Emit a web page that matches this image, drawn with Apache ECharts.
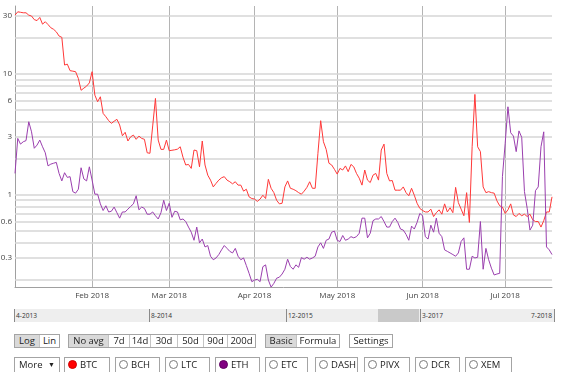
<!DOCTYPE html>
<html>
<head>
<meta charset="utf-8">
<script src="https://cdn.jsdelivr.net/npm/echarts/dist/echarts.min.js"></script>
<style>
  html, body { margin: 0; padding: 0; background: #fff; }
  #wrap { position: relative; width: 570px; height: 372px; overflow: hidden; font-family: 'Open Sans', sans-serif; color: #222; }
  #chart { position: absolute; left: 0; top: 0; width: 570px; height: 372px; }
  #nav { position: absolute; left: 14px; top: 309px; width: 541px; height: 13px; background: #eeeeee; }
  #nav .blk { position: absolute; top: 0; height: 13px; background: #c9c9c9; }
  #nav .tk { position: absolute; top: 0; width: 1px; height: 13px; background: #8a8a8a; }
  #nav .lb { position: absolute; top: 0; line-height: 13px; font-size: 6.6px; color: #333; white-space: nowrap; }
  .grp { position: absolute; top: 334px; height: 14px; display: flex; border: 1px solid #a4a4a4; box-sizing: border-box; background: #fff; font-size: 9.5px; }
  .grp span { display: block; box-sizing: border-box; text-align: center; line-height: 12px; border-left: 1px solid #c4c4c4; white-space: nowrap; }
  .grp span:first-child { border-left: none; }
  .grp span.sel { background: #d9d9d9; }
  .box { position: absolute; top: 357px; height: 16px; border: 1px solid #a4a4a4; box-sizing: border-box; background: #fff; font-size: 9.5px; line-height: 14px; white-space: nowrap; }
  .box .rd { position: absolute; left: 3px; top: 2px; width: 9px; height: 9px; border-radius: 50%; border: 1px solid #7a7a7a; box-sizing: border-box; background: #fff; }
  .box .tx { position: absolute; left: 15px; top: 0; }
</style>
</head>
<body>
<div id="wrap">
  <div id="chart"></div>

  <div id="nav">
    <div class="blk" style="left:364px;width:41px"></div>
    <div class="tk" style="left:0px"></div>
    <div class="lb" style="left:2px">4-2013</div>
    <div class="tk" style="left:135px"></div>
    <div class="lb" style="left:137px">8-2014</div>
    <div class="tk" style="left:272px"></div>
    <div class="lb" style="left:274px">12-2015</div>
    <div class="tk" style="left:406px"></div>
    <div class="lb" style="left:408px">3-2017</div>
    <div class="tk" style="left:540px"></div>
    <div class="lb" style="right:3px">7-2018</div>
  </div>

  <div class="grp" style="left:14px"><span class="sel" style="width:24px">Log</span><span style="width:20px">Lin</span></div>
  <div class="grp" style="left:68px"><span class="sel" style="width:39px">No avg</span><span style="width:21px">7d</span><span style="width:21px">14d</span><span style="width:27px">30d</span><span style="width:26px">50d</span><span style="width:24px">90d</span><span style="width:28px">200d</span></div>
  <div class="grp" style="left:265px"><span class="sel" style="width:30px">Basic</span><span style="width:43px">Formula</span></div>
  <div class="grp" style="left:349px"><span style="width:42px">Settings</span></div>

  <div class="box" style="left:14px;width:46px"><span style="position:absolute;left:4px">More</span><span style="position:absolute;right:4px;font-size:7px">&#9660;</span></div>
  <div class="box" style="left:64px;width:46px"><span class="rd" style="background:#ff0000;border-color:#d00000"></span><span class="tx">BTC</span></div>
  <div class="box" style="left:115px;width:45px"><span class="rd"></span><span class="tx">BCH</span></div>
  <div class="box" style="left:165px;width:45px"><span class="rd"></span><span class="tx">LTC</span></div>
  <div class="box" style="left:215px;width:45px"><span class="rd" style="background:#800080;border-color:#600060"></span><span class="tx">ETH</span></div>
  <div class="box" style="left:265px;width:43px"><span class="rd"></span><span class="tx">ETC</span></div>
  <div class="box" style="left:315px;width:43px"><span class="rd"></span><span class="tx">DASH</span></div>
  <div class="box" style="left:364px;width:46px"><span class="rd"></span><span class="tx">PIVX</span></div>
  <div class="box" style="left:415px;width:45px"><span class="rd"></span><span class="tx">DCR</span></div>
  <div class="box" style="left:465px;width:47px"><span class="rd"></span><span class="tx">XEM</span></div>
</div>

<script>
// ---- data (daily, starting 2018-01-04) ----
const startDate = '2018-01-04';

const btc = [
  30.5,32.5,32.2,31.9,31.9,30.5,30.0,28.0,27.5,29.2,
  25.7,26.9,25.5,24.0,23.3,22.2,20.5,20.0,11.8,12.0,
  10.6,10.5,10.4,9.15,7.3,7.6,7.9,8.4,10.4,6.65,
  5.87,6.45,4.70,4.41,4.1,3.89,4.05,4.20,3.77,3.07,
  3.28,2.78,3.01,3.11,2.87,3.05,2.92,2.87,2.22,2.20,
  3.7,6.25,2.83,2.37,2.37,2.83,2.31,2.33,2.35,2.38,
  2.49,2.04,1.76,1.78,1.65,2.34,2.31,1.70,2.78,1.76,
  1.45,1.32,1.16,1.24,1.32,1.38,1.41,1.32,1.28,1.23,
  1.28,1.20,1.20,1.07,1.11,0.96,0.93,0.92,0.88,0.92,
  0.99,0.93,1.34,1.13,1.04,0.90,0.84,0.85,1.16,1.30,
  1.13,1.11,1.08,1.04,1.01,1.07,1.15,1.28,1.13,1.13,
  2.20,4.09,2.74,2.37,1.82,1.76,1.62,1.48,1.65,1.60,
  1.73,1.55,1.78,1.70,1.50,1.37,1.20,1.60,1.32,1.26,
  1.45,1.50,1.32,2.34,2.62,1.50,1.30,1.31,1.09,1.09,
  1.09,1.16,1.04,0.98,1.13,0.99,0.85,0.77,0.74,0.72,
  0.72,0.76,0.66,0.71,0.75,0.69,0.84,0.72,0.78,0.71,
  1.15,0.86,0.76,0.67,1.04,0.59,2.49,6.75,2.49,2.27,
  1.16,1.04,1.06,1.04,1.03,0.89,0.81,0.79,0.70,0.75,
  0.84,0.68,0.66,0.70,0.67,0.69,0.66,0.69,0.62,0.60,
  0.60,0.54,0.61,0.72,0.72,0.96
];

const eth = [
  1.50,2.92,2.62,2.74,2.80,4.01,3.31,2.42,2.57,2.83,
  2.49,2.22,1.73,1.79,1.82,1.85,1.50,1.30,1.52,1.39,
  1.41,1.06,1.03,1.11,1.67,1.35,1.30,1.70,1.32,1.01,
  1.01,0.84,0.74,0.81,0.72,0.73,0.79,0.71,0.64,0.72,
  0.72,0.76,0.80,0.84,0.98,0.75,0.79,0.77,0.69,0.69,
  0.72,0.67,0.63,0.71,0.90,0.74,0.85,0.65,0.73,0.72,
  0.62,0.63,0.60,0.54,0.49,0.42,0.54,0.40,0.43,0.37,
  0.38,0.31,0.29,0.30,0.32,0.35,0.38,0.36,0.34,0.33,
  0.36,0.31,0.29,0.30,0.26,0.224,0.191,0.197,0.200,0.191,
  0.254,0.263,0.197,0.172,0.185,0.204,0.208,0.221,0.242,0.293,
  0.255,0.242,0.263,0.251,0.302,0.293,0.304,0.293,0.30,0.31,
  0.37,0.40,0.36,0.42,0.43,0.49,0.50,0.42,0.41,0.46,
  0.42,0.43,0.45,0.44,0.45,0.48,0.64,0.64,0.44,0.48,
  0.61,0.63,0.63,0.66,0.60,0.54,0.54,0.60,0.64,0.59,
  0.52,0.51,0.47,0.42,0.55,0.52,0.59,0.70,0.67,0.45,
  0.43,0.56,0.49,0.64,0.48,0.45,0.35,0.34,0.33,0.32,
  0.31,0.33,0.41,0.44,0.242,0.242,0.31,0.30,0.304,0.60,
  0.242,0.36,0.29,0.247,0.217,0.221,0.224,1.41,2.66,5.33,
  3.25,3.05,2.27,3.37,2.98,1.06,0.77,0.51,0.56,1.08,
  1.16,2.49,3.31,0.37,0.35,0.32
];

const gridValues = [0.2,0.3,0.4,0.5,0.6,0.7,0.8,0.9,1,2,3,4,5,6,7,8,9,10,20,30];
const yTickLabels = ['0.3','0.6','1','3','6','10','30'];
const monthNames = ['Jan','Feb','Mar','Apr','May','Jun','Jul','Aug','Sep','Oct','Nov','Dec'];
const yMin = 0.1726;
const yMax = 36.3;

// ---- categories ----
const dates = [];
(function () {
  const d0 = new Date(startDate + 'T00:00:00Z');
  for (let i = 0; i < btc.length; i++) {
    const d = new Date(d0.getTime() + i * 86400000);
    const m = String(d.getUTCMonth() + 1).padStart(2, '0');
    const day = String(d.getUTCDate()).padStart(2, '0');
    dates.push(d.getUTCFullYear() + '-' + m + '-' + day);
  }
})();

function isMonthStart(v) { return typeof v === 'string' && v.slice(8, 10) === '01'; }
function monthLabel(v) {
  if (!isMonthStart(v)) return '';
  return monthNames[parseInt(v.slice(5, 7), 10) - 1] + ' ' + v.slice(0, 4);
}

const chart = echarts.init(document.getElementById('chart'), null, { renderer: 'canvas' });
chart.setOption({
  animation: false,
  textStyle: { fontFamily: 'Open Sans' },
  grid: { left: 15, right: 18, top: 6, bottom: 85, containLabel: false },
  tooltip: { show: false },
  xAxis: {
    type: 'category',
    data: dates,
    boundaryGap: false,
    axisLine: { show: true, lineStyle: { color: '#a0a0a0', width: 1 } },
    axisTick: { show: false },
    axisLabel: {
      interval: function (i, v) { return isMonthStart(v); },
      formatter: function (v) { return monthLabel(v); },
      color: '#444', fontSize: 8, margin: 5
    },
    splitLine: {
      show: true,
      interval: function (i, v) { return isMonthStart(v); },
      lineStyle: { color: '#b4b4b4', width: 1 }
    }
  },
  yAxis: {
    type: 'log',
    logBase: 10,
    min: yMin,
    max: yMax,
    axisLine: { show: true, lineStyle: { color: '#a0a0a0', width: 1 } },
    axisTick: { show: false },
    axisLabel: { show: false },
    splitLine: { show: false }
  },
  series: [
    {
      name: 'BTC',
      type: 'line',
      data: btc,
      showSymbol: false,
      symbol: 'none',
      z: 3,
      lineStyle: { color: '#ff3838', width: 1 },
      itemStyle: { color: '#ff3838' },
      markLine: {
        silent: true,
        z: 1,
        animation: false,
        symbol: ['none', 'none'],
        lineStyle: { color: '#d6d6d6', width: 1.5, type: 'solid' },
        label: {
          show: true,
          position: 'start',
          distance: 3,
          color: '#444',
          fontSize: 8,
          padding: [7, 0, 0, 0],
          formatter: function (p) {
            const s = String(p.value);
            return yTickLabels.indexOf(s) >= 0 ? s : '';
          }
        },
        emphasis: { disabled: true },
        data: gridValues.map(function (v) { return { yAxis: v }; })
      }
    },
    {
      name: 'ETH',
      type: 'line',
      data: eth,
      showSymbol: false,
      symbol: 'none',
      z: 4,
      lineStyle: { color: '#9a3fae', width: 1 },
      itemStyle: { color: '#9a3fae' }
    }
  ]
});
</script>
</body>
</html>
